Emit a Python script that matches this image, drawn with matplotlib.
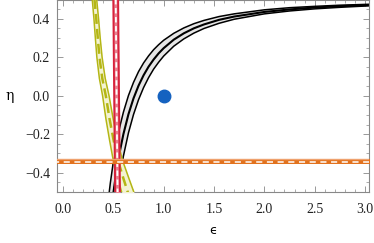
import matplotlib
matplotlib.use("Agg")
import matplotlib.pyplot as plt
from matplotlib.ticker import MultipleLocator

# ---- data ----
# black band: eta as function of epsilon
blk_eps = [0.42, 0.45, 0.47, 0.50, 0.52, 0.55, 0.57, 0.60, 0.65, 0.70, 0.75, 0.80, 0.85,
           0.90, 0.95, 1.00, 1.10, 1.20, 1.30, 1.40, 1.55, 1.70, 2.00, 2.25, 2.50, 2.75, 3.05]
blk_mid = [-0.925, -0.742, -0.638, -0.506, -0.430, -0.332, -0.275, -0.199, -0.096, -0.014,
           0.052, 0.106, 0.151, 0.188, 0.220, 0.247, 0.291, 0.324, 0.350, 0.370, 0.394,
           0.411, 0.435, 0.448, 0.458, 0.465, 0.471]
blk_up = [-0.692, -0.539, -0.453, -0.342, -0.279, -0.196, -0.148, -0.085, 0.001, 0.069,
          0.125, 0.170, 0.207, 0.239, 0.265, 0.288, 0.324, 0.352, 0.374, 0.391, 0.411,
          0.425, 0.446, 0.457, 0.464, 0.470, 0.475]
blk_lo = [-1.157, -0.944, -0.824, -0.670, -0.582, -0.467, -0.401, -0.313, -0.193, -0.098,
          -0.021, 0.042, 0.094, 0.138, 0.174, 0.206, 0.257, 0.295, 0.325, 0.349, 0.376,
          0.397, 0.425, 0.440, 0.451, 0.459, 0.467]

# yellow band: epsilon as function of eta
yel_eta = [0.52, 0.495, 0.40, 0.30, 0.20, 0.09, 0.0, -0.12, -0.23, -0.33, -0.43, -0.52]
yel_mid = [0.310, 0.313, 0.330, 0.345, 0.362, 0.390, 0.425, 0.462, 0.502, 0.542, 0.600, 0.655]
yel_left = [0.288, 0.291, 0.307, 0.321, 0.336, 0.361, 0.393, 0.426, 0.462, 0.497, 0.545, 0.593]
yel_right = [0.332, 0.335, 0.353, 0.369, 0.388, 0.419, 0.457, 0.498, 0.542, 0.587, 0.655, 0.717]

# red band: epsilon as function of eta
red_eta = [0.52, 0.0, -0.52]
red_mid = [0.523, 0.532, 0.542]
red_half = 0.024

# orange band: constant eta
org_eps = [-0.1, 3.1]
org_mid = [-0.342, -0.342]
org_half = 0.012

# point
pt_eps = [1.0]
pt_eta = [0.0]

x_ticks = [0.0, 0.5, 1.0, 1.5, 2.0, 2.5, 3.0]
y_ticks = [-0.4, -0.2, 0.0, 0.2, 0.4]

# ---- figure ----
plt.rcParams['font.family'] = ['Liberation Serif', 'DejaVu Serif']
fig = plt.figure(figsize=(3.74, 2.43), dpi=100)
ax = fig.add_axes([57/374, 1-192/243, (369-57)/374, 192/243])

# black band
ax.fill_between(blk_eps, blk_lo, blk_up, color='#e6e6e6', lw=0, zorder=1)
ax.plot(blk_eps, blk_up, color='black', lw=1.1, zorder=2)
ax.plot(blk_eps, blk_lo, color='black', lw=1.1, zorder=2)
ax.plot(blk_eps, blk_mid, color='black', lw=1.5, zorder=2)

# yellow band
ycol = '#b4b614'
ax.fill_betweenx(yel_eta, yel_left, yel_right, color='#f3f3d2', lw=0, zorder=3)
ax.plot(yel_left, yel_eta, color=ycol, lw=1.1, zorder=4)
ax.plot(yel_right, yel_eta, color=ycol, lw=1.1, zorder=4)
ax.plot(yel_mid, yel_eta, color=ycol, lw=1.8, ls=(0, (4, 2)), zorder=4)

# red band
rcol = '#d8223c'
red_l = [m - red_half for m in red_mid]
red_r = [m + red_half for m in red_mid]
ax.fill_betweenx(red_eta, red_l, red_r, color='#e88392', lw=0, zorder=5)
ax.plot(red_l, red_eta, color=rcol, lw=1.4, zorder=6)
ax.plot(red_r, red_eta, color=rcol, lw=1.4, zorder=6)
ax.plot(red_mid, red_eta, color='white', lw=1.3, ls=(0, (3, 2)), zorder=6)

# orange band
ocol = '#e2721e'
org_l = [m - org_half for m in org_mid]
org_u = [m + org_half for m in org_mid]
ax.fill_between(org_eps, org_l, org_u, color=ocol, lw=0, zorder=7)
ax.plot(org_eps, org_u, color='#efa26e', lw=1.0, zorder=7)
ax.plot(org_eps, org_mid, color='white', lw=1.1, ls=(0, (4, 3)), zorder=8)

# point
ax.plot(pt_eps, pt_eta, 'o', color='#1562c0', ms=9, zorder=9)

ax.set_xlim(-0.06, 3.04)
ax.set_ylim(-0.5, 0.497)
ax.set_xticks(x_ticks)
ax.set_xticklabels([f"{t:.1f}" for t in x_ticks])
ax.set_yticks(y_ticks)
ax.set_yticklabels([f"{t:.1f}".replace('-', '\u2212') for t in y_ticks])
ax.xaxis.set_minor_locator(MultipleLocator(0.1))
ax.yaxis.set_minor_locator(MultipleLocator(0.05))
ax.tick_params(which='both', direction='in', top=True, right=True, color='#888888',
               labelsize=10, labelcolor='#222222')
ax.tick_params(axis='x', pad=8)
ax.tick_params(axis='y', pad=5)
ax.tick_params(which='major', length=4, width=0.6)
ax.tick_params(which='minor', length=2, width=0.5)
for s in ax.spines.values():
    s.set_color('#888888')
    s.set_linewidth(0.8)

ax.set_xlabel('\u03f5', fontsize=9, family=['DejaVu Sans'], labelpad=6)
ax.set_ylabel('\u03b7', fontsize=10, rotation=0, labelpad=11, va='center',
              family=['DejaVu Serif'])

fig.savefig('out.png', dpi=100)
